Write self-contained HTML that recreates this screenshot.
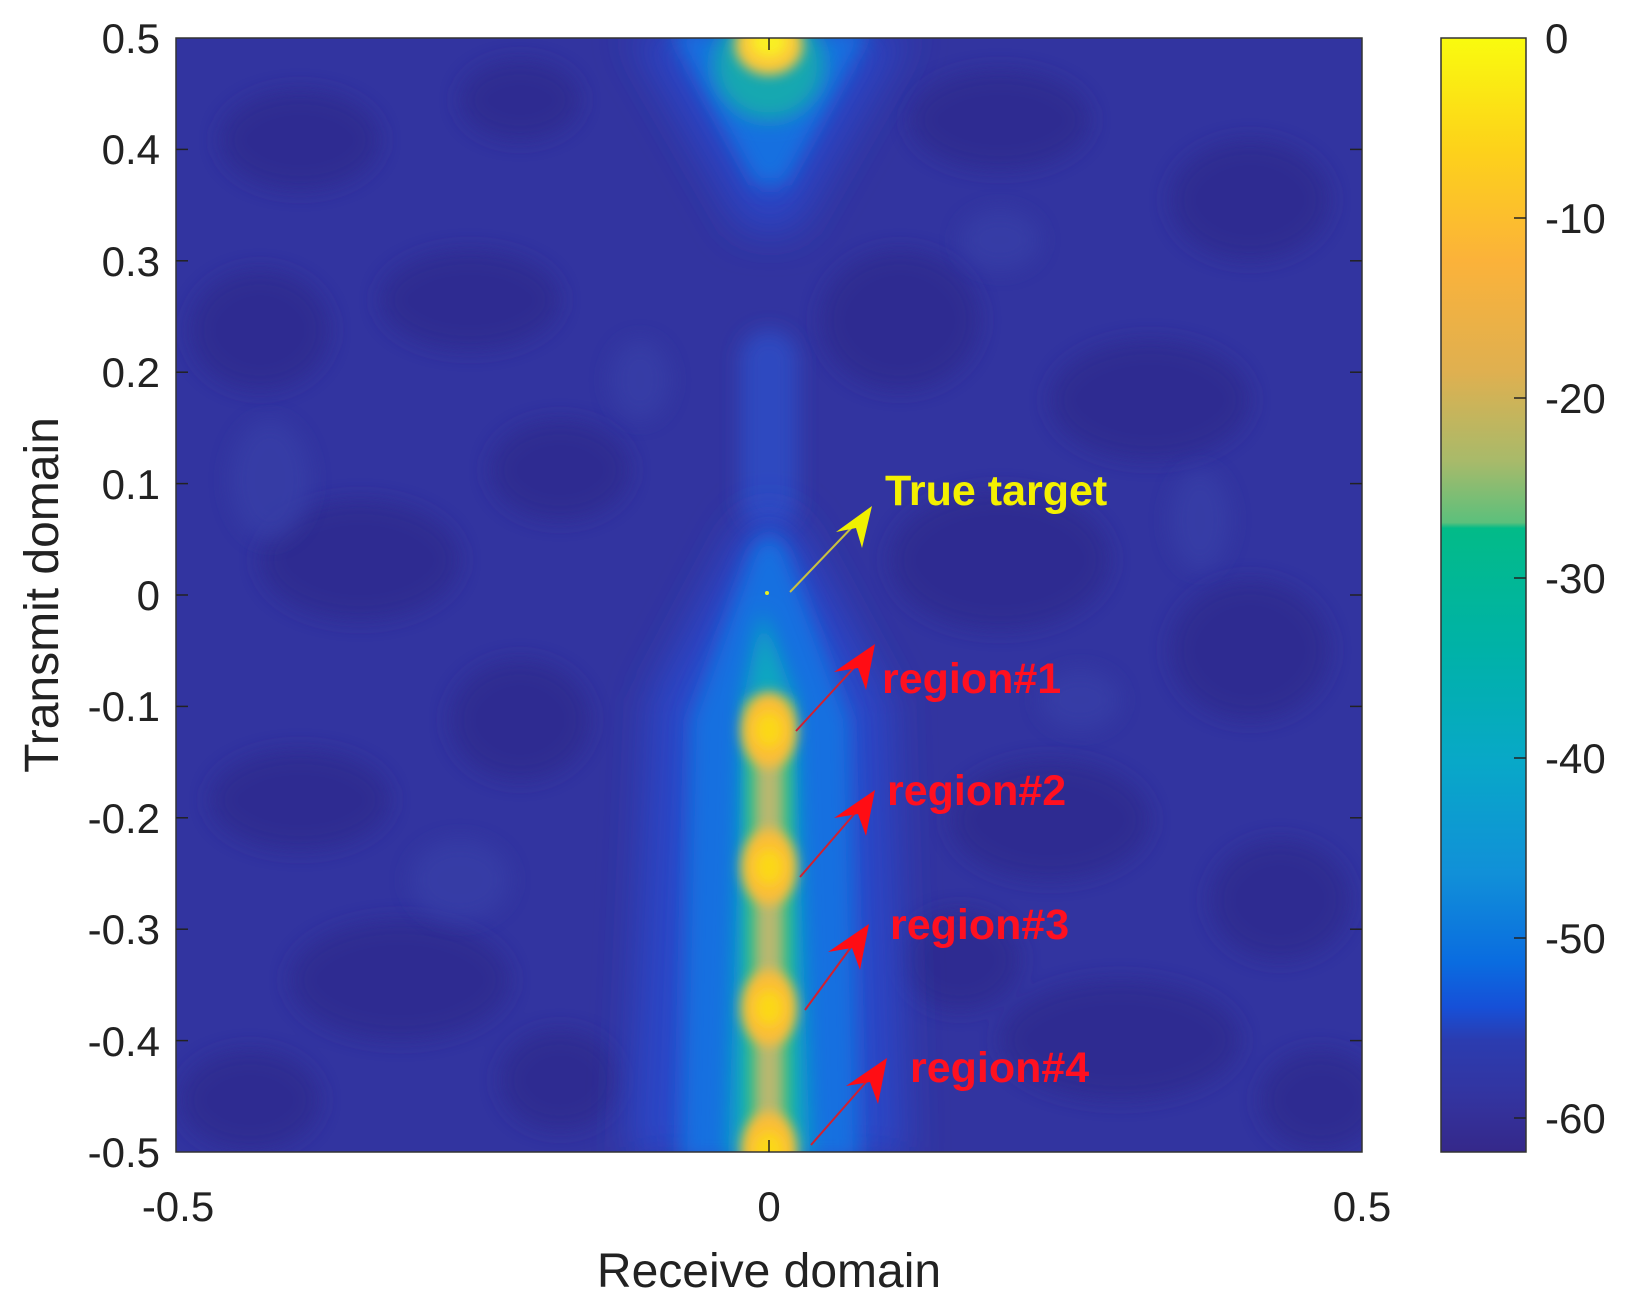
<!DOCTYPE html>
<html><head><meta charset="utf-8"><style>
html,body{margin:0;padding:0;background:#fff;width:1628px;height:1301px;overflow:hidden}
text{font-family:"Liberation Sans",sans-serif}
</style></head><body>
<svg width="1628" height="1301" viewBox="0 0 1628 1301" xmlns="http://www.w3.org/2000/svg">
<defs>
<clipPath id="pc"><rect x="176" y="38" width="1186" height="1114"/></clipPath>
<filter id="b20" x="-50%" y="-50%" width="200%" height="200%"><feGaussianBlur stdDeviation="20"/></filter>
<filter id="b10" x="-50%" y="-50%" width="200%" height="200%"><feGaussianBlur stdDeviation="10"/></filter>
<filter id="b6" x="-50%" y="-50%" width="200%" height="200%"><feGaussianBlur stdDeviation="6"/></filter>
<linearGradient id="cb" x1="0" y1="0" x2="0" y2="1">
<stop offset="0" stop-color="#f9fb0e"/>
<stop offset="0.1" stop-color="#fdd21a"/>
<stop offset="0.2" stop-color="#fbb23a"/>
<stop offset="0.3" stop-color="#dfb050"/>
<stop offset="0.38" stop-color="#a8ba6a"/>
<stop offset="0.435" stop-color="#5cc07c"/>
<stop offset="0.44" stop-color="#02bb88"/>
<stop offset="0.55" stop-color="#00b2a8"/>
<stop offset="0.65" stop-color="#08a8c8"/>
<stop offset="0.75" stop-color="#1190d8"/>
<stop offset="0.83" stop-color="#0a6ce0"/>
<stop offset="0.87" stop-color="#1650d8"/>
<stop offset="0.9" stop-color="#2b3cb0"/>
<stop offset="0.95" stop-color="#3334a0"/>
<stop offset="1" stop-color="#35288a"/>
</linearGradient>
</defs>
<g clip-path="url(#pc)">
<rect x="176" y="38" width="1186" height="1114" fill="#3234a0"/>
<g fill="#2e2c8e" filter="url(#b10)" opacity="0.8">
<ellipse cx="300" cy="140" rx="80" ry="50"/><ellipse cx="520" cy="100" rx="60" ry="40"/>
<ellipse cx="1000" cy="120" rx="90" ry="50"/><ellipse cx="1250" cy="200" rx="80" ry="60"/>
<ellipse cx="260" cy="330" rx="70" ry="60"/><ellipse cx="470" cy="300" rx="90" ry="50"/>
<ellipse cx="900" cy="320" rx="80" ry="70"/><ellipse cx="1150" cy="400" rx="100" ry="60"/>
<ellipse cx="360" cy="560" rx="100" ry="60"/><ellipse cx="560" cy="470" rx="70" ry="50"/>
<ellipse cx="1000" cy="560" rx="110" ry="70"/><ellipse cx="1250" cy="650" rx="80" ry="70"/>
<ellipse cx="300" cy="800" rx="90" ry="50"/><ellipse cx="520" cy="720" rx="70" ry="60"/>
<ellipse cx="1050" cy="820" rx="100" ry="60"/><ellipse cx="1280" cy="900" rx="70" ry="60"/>
<ellipse cx="400" cy="980" rx="110" ry="60"/><ellipse cx="1120" cy="1040" rx="120" ry="60"/>
<ellipse cx="250" cy="1100" rx="70" ry="50"/><ellipse cx="560" cy="1080" rx="60" ry="50"/>
<ellipse cx="960" cy="960" rx="60" ry="50"/><ellipse cx="1320" cy="1100" rx="60" ry="50"/>
</g>
<g fill="#3840a8" filter="url(#b10)" opacity="0.7">
<ellipse cx="270" cy="480" rx="40" ry="60"/><ellipse cx="460" cy="880" rx="50" ry="40"/>
<ellipse cx="1080" cy="700" rx="40" ry="30"/><ellipse cx="1200" cy="520" rx="30" ry="50"/>
<ellipse cx="640" cy="380" rx="30" ry="40"/><ellipse cx="1000" cy="240" rx="40" ry="30"/>
</g>
<!-- top V -->
<path d="M630,30 L910,30 L795,230 L745,230 Z" fill="#2a44c4" filter="url(#b20)"/>
<path d="M670,30 L870,30 L785,185 L755,185 Z" fill="#1470e0" filter="url(#b10)"/>
<ellipse cx="769" cy="65" rx="55" ry="55" fill="#12a8b0" filter="url(#b10)"/>
<ellipse cx="769" cy="45" rx="34" ry="30" fill="#fbc83a" filter="url(#b6)"/>
<ellipse cx="769" cy="42" rx="18" ry="15" fill="#f9f020" filter="url(#b6)"/>
<!-- central ridge -->
<rect x="740" y="330" width="58" height="200" rx="29" fill="#2e48c0" filter="url(#b10)"/>
<path d="M740,530 Q769,500 798,530 L890,700 L905,1160 L630,1160 L650,700 Z" fill="#2a46c8" filter="url(#b20)"/>
<path d="M752,550 Q769,520 786,550 L850,720 L860,1160 L680,1160 L690,720 Z" fill="#1270e0" filter="url(#b10)"/>
<path d="M762,610 L795,700 L810,1160 L728,1160 L743,700 Z" fill="#10a8c0" filter="url(#b10)"/>
<rect x="746" y="700" width="46" height="460" fill="#30bc88" filter="url(#b6)"/>
<rect x="756" y="720" width="26" height="440" fill="#b8b870" filter="url(#b6)"/>
<g fill="#fbbe38" filter="url(#b6)">
<ellipse cx="769" cy="730" rx="28" ry="38"/><ellipse cx="769" cy="867" rx="28" ry="38"/>
<ellipse cx="769" cy="1008" rx="28" ry="38"/><ellipse cx="769" cy="1150" rx="28" ry="38"/>
</g>
<g fill="#fbd818" filter="url(#b6)">
<ellipse cx="769" cy="730" rx="14" ry="18"/><ellipse cx="769" cy="867" rx="14" ry="18"/>
<ellipse cx="769" cy="1008" rx="14" ry="18"/><ellipse cx="769" cy="1150" rx="14" ry="18"/>
</g>
<circle cx="767" cy="593" r="2" fill="#e8f020"/>
</g>
<rect x="176" y="38" width="1186" height="1114" fill="none" stroke="#333" stroke-width="1.5"/>
<g stroke="#222" stroke-width="1.5">
<line x1="769" y1="1152" x2="769" y2="1140"/><line x1="769" y1="38" x2="769" y2="50"/>
<line x1="176" y1="149.4" x2="188" y2="149.4"/><line x1="176" y1="260.8" x2="188" y2="260.8"/>
<line x1="176" y1="372.2" x2="188" y2="372.2"/><line x1="176" y1="483.6" x2="188" y2="483.6"/>
<line x1="176" y1="595" x2="188" y2="595"/><line x1="176" y1="706.4" x2="188" y2="706.4"/>
<line x1="176" y1="817.8" x2="188" y2="817.8"/><line x1="176" y1="929.2" x2="188" y2="929.2"/>
<line x1="176" y1="1040.6" x2="188" y2="1040.6"/>
<line x1="1362" y1="149.4" x2="1350" y2="149.4"/><line x1="1362" y1="260.8" x2="1350" y2="260.8"/>
<line x1="1362" y1="372.2" x2="1350" y2="372.2"/><line x1="1362" y1="483.6" x2="1350" y2="483.6"/>
<line x1="1362" y1="595" x2="1350" y2="595"/><line x1="1362" y1="706.4" x2="1350" y2="706.4"/>
<line x1="1362" y1="817.8" x2="1350" y2="817.8"/><line x1="1362" y1="929.2" x2="1350" y2="929.2"/>
<line x1="1362" y1="1040.6" x2="1350" y2="1040.6"/>
</g>
<g font-size="42" fill="#222" text-anchor="end">
<text x="160" y="53">0.5</text><text x="160" y="164">0.4</text><text x="160" y="276">0.3</text>
<text x="160" y="387">0.2</text><text x="160" y="499">0.1</text><text x="160" y="610">0</text>
<text x="160" y="721">-0.1</text><text x="160" y="833">-0.2</text><text x="160" y="944">-0.3</text>
<text x="160" y="1056">-0.4</text><text x="160" y="1167">-0.5</text>
</g>
<g font-size="42" fill="#222" text-anchor="middle">
<text x="178" y="1221">-0.5</text><text x="769" y="1221">0</text><text x="1362" y="1221">0.5</text>
<text x="769" y="1287" font-size="48">Receive domain</text>
<text transform="translate(58,595) rotate(-90)" font-size="48">Transmit domain</text>
</g>
<!-- colorbar -->
<rect x="1441" y="38" width="85" height="1114" fill="url(#cb)" stroke="#333" stroke-width="1.5"/>
<g stroke="#222" stroke-width="1.5">
<line x1="1514" y1="218" x2="1526" y2="218"/><line x1="1514" y1="398" x2="1526" y2="398"/>
<line x1="1514" y1="578" x2="1526" y2="578"/><line x1="1514" y1="758" x2="1526" y2="758"/>
<line x1="1514" y1="938" x2="1526" y2="938"/><line x1="1514" y1="1118" x2="1526" y2="1118"/>
</g>
<g font-size="42" fill="#222">
<text x="1545" y="53">0</text><text x="1545" y="233">-10</text><text x="1545" y="413">-20</text>
<text x="1545" y="593">-30</text><text x="1545" y="773">-40</text><text x="1545" y="953">-50</text>
<text x="1545" y="1133">-60</text>
</g>
<!-- annotations -->
<line x1="790" y1="592" x2="858" y2="521" stroke="#c8c040" stroke-width="2"/>
<polygon points="872,506 862,548 856,528 836,532" fill="#f0f000"/>
<text x="885" y="505" font-size="43" font-weight="bold" fill="#f4f000">True target</text>
<g stroke="#d02030" stroke-width="2">
<line x1="796" y1="731" x2="862" y2="659"/><line x1="800" y1="877" x2="862" y2="805"/>
<line x1="805" y1="1010" x2="857" y2="939"/><line x1="811" y1="1145" x2="874" y2="1073"/>
</g>
<g fill="#ff0d14">
<polygon points="875,644 866,690 858,668 834,672"/>
<polygon points="875,790 866,836 858,814 834,818"/>
<polygon points="869,924 860,970 852,948 828,952"/>
<polygon points="887,1058 878,1104 870,1082 846,1086"/>
</g>
<g font-size="43" font-weight="bold" fill="#ff1020">
<text x="882" y="693">region#1</text><text x="887" y="805">region#2</text>
<text x="890" y="939">region#3</text><text x="910" y="1082">region#4</text>
</g>
</svg>
</body></html>
